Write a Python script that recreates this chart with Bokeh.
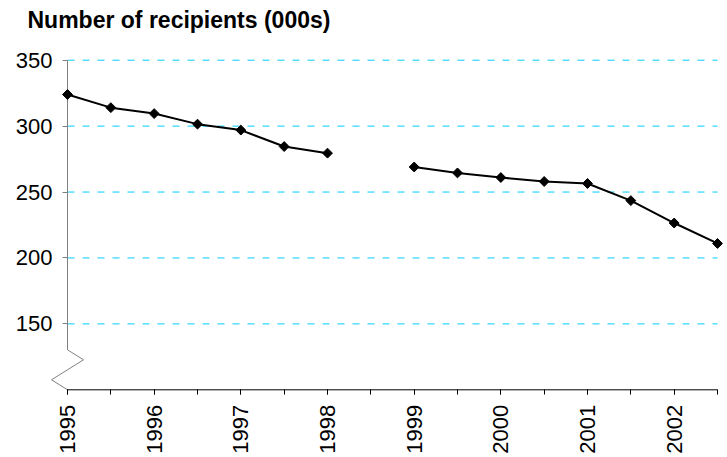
import math
from bokeh.plotting import figure
from bokeh.models import Range1d, FixedTicker, Label
from bokeh.embed import file_html
from bokeh.resources import INLINE

# ---- data ----
periods = [1995.0, 1995.5, 1996.0, 1996.5, 1997.0, 1997.5, 1998.0, 1998.5,
           1999.0, 1999.5, 2000.0, 2000.5, 2001.0, 2001.5, 2002.0, 2002.5]
recipients = [324, 314, 309.5, 301.5, 297, 284.5, 279.5, float("nan"),
              269, 264.5, 261, 258, 256.5, 243.5, 226.5, 211]
label_years = [1995, 1996, 1997, 1998, 1999, 2000, 2001, 2002]
year_labels = ["1995", "1996", "1997", "1998", "1999", "2000", "2001", "2002"]
y_ticks = [150, 200, 250, 300, 350]
y_base = 100
title_text = "Number of recipients (000s)"

# ---- layout (pixels) ----
W, H = 724, 455
x_px = 650 / (periods[-1] - periods[0])   # px per year
x_start = periods[0] - 67 / x_px
x_end = x_start + W / x_px
y_px = 329.6 / (y_ticks[-1] - y_base)      # px per unit
y_end = y_ticks[-1] + 59.7 / y_px
y_start = y_end - H / y_px

FONT = "Liberation Sans"

p = figure(width=W, height=H, output_backend="svg", toolbar_location=None,
           x_range=Range1d(x_start, x_end), y_range=Range1d(y_start, y_end),
           min_border=0, outline_line_color=None)
p.min_border_left = p.min_border_right = p.min_border_top = p.min_border_bottom = 0
p.background_fill_color = "white"
p.border_fill_color = "white"
p.grid.visible = False

# x axis
xa = p.xaxis[0]
xa.fixed_location = y_base
xa.ticker = FixedTicker(ticks=label_years, minor_ticks=periods)
xa.major_label_overrides = dict(zip(label_years, year_labels))
xa.axis_line_color = None
xa.major_tick_in = 0
xa.major_tick_out = 5
xa.minor_tick_in = 0
xa.minor_tick_out = 5
xa.major_tick_line_color = "black"
xa.minor_tick_line_color = "black"
xa.major_label_orientation = math.pi / 2
xa.major_label_standoff = 10
xa.major_label_text_font = FONT
xa.major_label_text_font_size = "22px"
xa.major_label_text_color = "black"

# y axis
ya = p.yaxis[0]
ya.fixed_location = periods[0]
ya.ticker = FixedTicker(ticks=y_ticks)
ya.axis_line_color = None
ya.major_tick_in = 0
ya.major_tick_out = 5
ya.major_tick_line_color = "#808080"
ya.minor_tick_line_color = None
ya.major_label_standoff = 10
ya.major_label_text_font = FONT
ya.major_label_text_font_size = "22px"
ya.major_label_text_color = "black"

# gridlines
p.segment(x0=[periods[0]] * len(y_ticks), x1=[periods[-1]] * len(y_ticks),
          y0=y_ticks, y1=y_ticks, line_color="#00CCFF", line_width=1,
          line_dash="7 8")

# y axis line with break
zig = [(0, 40), (16, 30), (-16, 10), (0, 0)]
ax_x = [periods[0], periods[0]] + [periods[0] + dx / x_px for dx, dy in zig]
ax_y = [y_ticks[-1], y_base + zig[0][1] / y_px] + [y_base + dy / y_px for dx, dy in zig]
p.line(ax_x, ax_y, line_color="#808080", line_width=1)

# x axis line
p.line([periods[0], periods[-1]], [y_base, y_base], line_color="black", line_width=1)

# data
p.line(periods, recipients, line_color="black", line_width=2)
p.scatter(periods, recipients, marker="square", size=7, angle=math.pi / 4,
          fill_color="black", line_color="black", line_width=1)

# title
p.add_layout(Label(x=periods[0], y=y_ticks[-1], x_offset=-40, y_offset=40,
                   text=title_text, text_font=FONT, text_font_size="23px",
                   text_font_style="bold", text_color="black",
                   text_baseline="alphabetic"))

open("out.html", "w").write(file_html(p, INLINE))
